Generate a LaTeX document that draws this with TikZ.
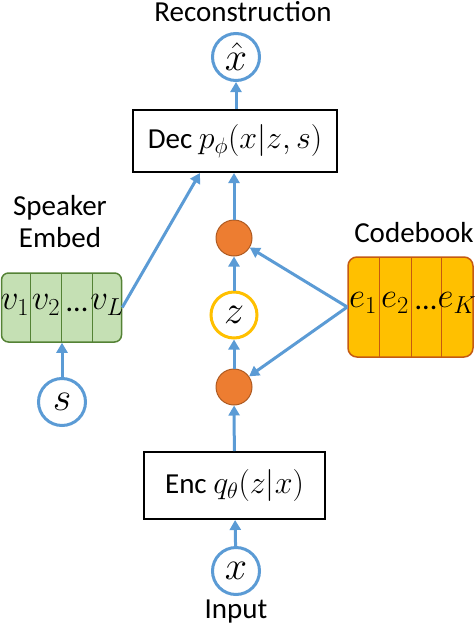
\documentclass[tikz,border=0pt]{standalone}
\usepackage{fix-cm}
\usepackage{fontspec}
\setmainfont{Carlito}
\usetikzlibrary{arrows.meta,calc}
\definecolor{cblue}{HTML}{5B9BD5}
\definecolor{corange}{HTML}{ED7D31}
\definecolor{corangeb}{HTML}{AE5A21}
\definecolor{cgold}{HTML}{FFC000}
\definecolor{cgoldb}{HTML}{C55A11}
\definecolor{cgreen}{HTML}{C5E0B4}
\definecolor{cgreenb}{HTML}{548235}
\tikzset{
  arr/.style={draw=cblue, line width=3pt, -{Triangle[length=10pt,width=11pt]}},
  varc/.style={circle, draw=cblue, line width=3pt, fill=white, minimum size=47pt, inner sep=0pt, font=\fontsize{40}{40}\selectfont},
  dot/.style={circle, draw=corangeb, line width=1pt, fill=corange, minimum size=36pt, inner sep=0pt},
  zc/.style={circle, draw=cgold, line width=3pt, fill=white, minimum size=46pt, inner sep=0pt, font=\fontsize{40}{40}\selectfont},
  netbox/.style={draw=black, line width=2pt, fill=white, inner sep=0pt, font=\fontsize{29}{32}\selectfont},
  lbl/.style={font=\fontsize{29}{32}\selectfont, align=center, inner sep=0pt},
  cell/.style={font=\fontsize{35}{35}\selectfont, inner sep=0pt}
}
\begin{document}
\begin{tikzpicture}[x=1pt,y=-1pt]
\useasboundingbox (0,0) rectangle (476,626);
% titles
\node[lbl] (rec) at (243,12) {Reconstruction};
\node[lbl] (spk) at (60,222) {Speaker\\Embed};
\node[lbl] (cbt) at (414,233) {Codebook};
\node[lbl] (inp) at (236,612) {Input};
% variable circles
\node[varc] (xhat) at (236,57) {$\hat{x}$};
\node[varc] (xin) at (236,571) {$x$};
\node[varc] (s) at (62,402) {$s$};
\node[zc] (z) at (234,315) {$z$};
\node[dot] (q2) at (234,238) {};
\node[dot] (q1) at (234,387) {};
% boxes
\node[netbox, minimum width=204pt, minimum height=62pt] (dec) at (235,141) {Dec {\fontsize{32}{32}\selectfont$p_\phi(x|z,s)$}};
\node[netbox, minimum width=181pt, minimum height=67pt] (enc) at (234.5,485.5) {Enc {\fontsize{32}{32}\selectfont$q_\theta(z|x)$}};
% speaker embedding
\node[draw=cgreenb, fill=cgreen, line width=1.5pt, rounded corners=7pt, minimum width=120pt, minimum height=69pt, inner sep=0pt] (emb) at (61.5,307.5) {};
\draw[cgreenb, line width=1pt] (30,273) -- (30,342) (61,273) -- (61,342) (92,273) -- (92,342);
\node[cell] (v1) at (15,305) {$v_1$};
\node[cell] (v2) at (46,305) {$v_2$};
\node[cell] (vd) at (77,310) {\fontsize{30}{30}\selectfont ...};
\node[cell] (vL) at (107,305) {$v_L$};
% codebook
\node[draw=cgoldb, fill=cgold, line width=1.5pt, rounded corners=9pt, minimum width=125pt, minimum height=100pt, inner sep=0pt] (cb) at (410.5,307) {};
\draw[cgoldb, line width=1pt] (379,257) -- (379,357) (411,257) -- (411,357) (441,257) -- (441,357);
\node[cell] (e1) at (363,303) {$e_1$};
\node[cell] (e2) at (395,303) {$e_2$};
\node[cell] (ed) at (426,308) {\fontsize{30}{30}\selectfont ...};
\node[cell] (eK) at (457,303) {$e_K$};
% connectors
\draw[arr] (xin) -- (enc);
\draw[arr] (enc) -- (q1);
\draw[arr] (q1) -- (z);
\draw[arr] (z) -- (q2);
\draw[arr] (q2) -- (q2 |- dec.south);
\draw[arr] (dec.north -| xhat) -- (xhat);
\draw[arr] (s) -- (s |- emb.south);
\draw[arr] (emb.east) -- ($(dec.south)+(-35,0)$);
\draw[arr] (cb.west) -- (q2);
\draw[arr] (cb.west) -- (q1);
\end{tikzpicture}
\end{document}
